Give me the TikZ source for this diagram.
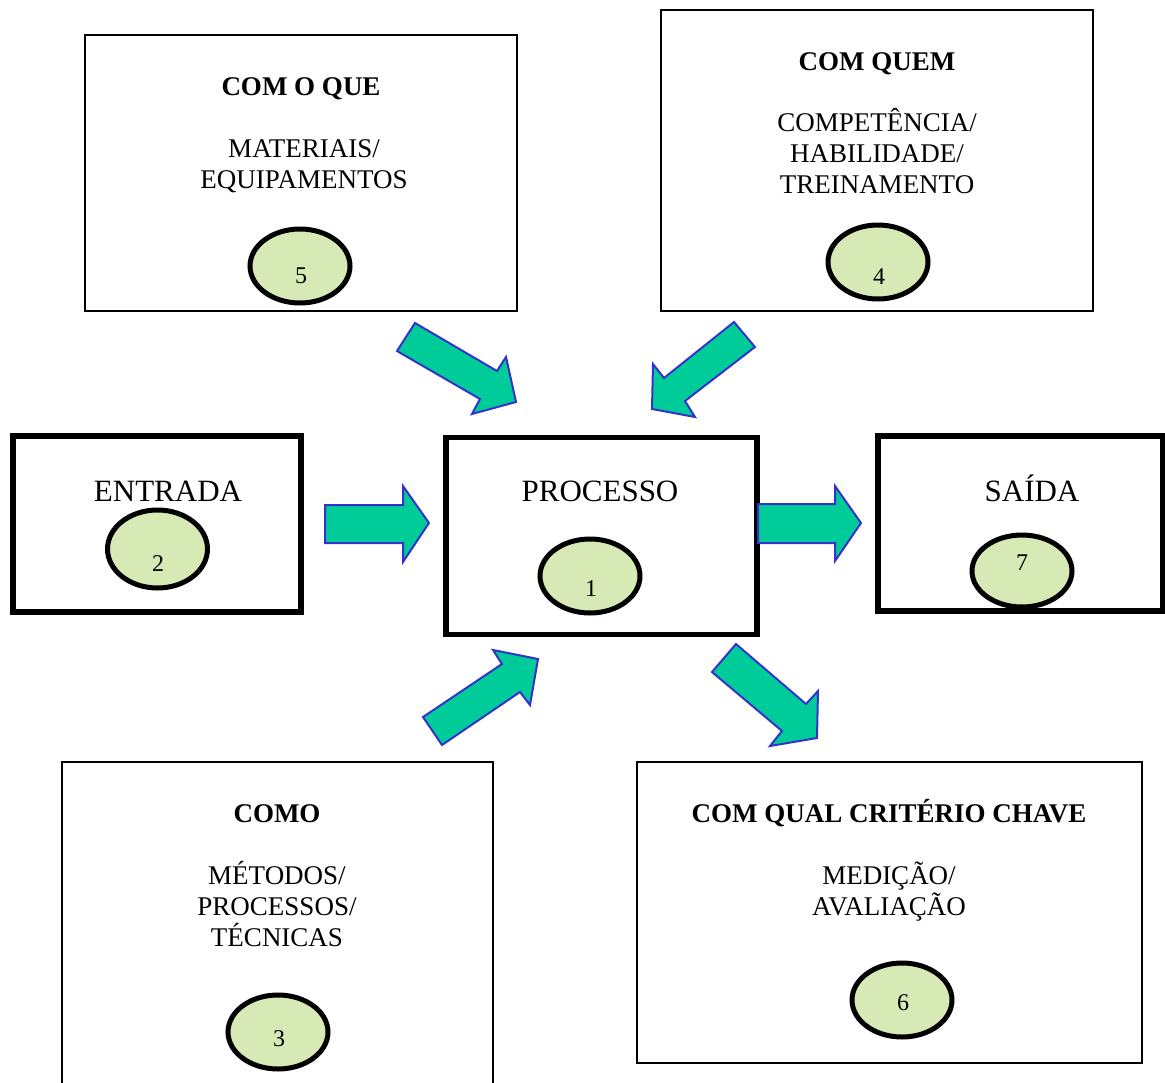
\documentclass[tikz,border=0pt]{standalone}
\usepackage{fontspec}
\setmainfont{Liberation Serif}
\usetikzlibrary{shapes.geometric}
\definecolor{ovalfill}{HTML}{D7E9B5}
\definecolor{arrowfill}{HTML}{00CC99}
\definecolor{arrowline}{HTML}{3333CC}
\begin{document}
\begin{tikzpicture}[x=1pt,y=-1pt,
  thinbox/.style={draw=black,line width=2.4pt,rectangle,inner sep=0pt,fill=white},
  thickbox/.style={draw=black,line width=5.5pt,rectangle,inner sep=0pt,fill=white},
  oval/.style={ellipse,draw=black,line width=5pt,fill=ovalfill,inner sep=0pt},
  num/.style={font=\fontsize{24}{28}\selectfont,inner sep=0pt,anchor=base},
  txt/.style={font=\fontsize{27}{31}\selectfont,align=center,inner sep=0pt,anchor=base},
  ttl/.style={txt,font=\fontsize{27}{31}\selectfont\bfseries},
  big/.style={font=\fontsize{31}{36}\selectfont,inner sep=0pt,anchor=base},
  blockarrow/.style={fill=arrowfill,draw=arrowline,line width=2pt,line join=miter}]
\useasboundingbox (0,0) rectangle (1165,1082);
\fill[white] (0,0) rectangle (1165,1082);

% outer boxes
\node[thinbox,minimum width=432pt,minimum height=276pt] (boxwhat) at (301,173) {};
\node[thinbox,minimum width=432pt,minimum height=301pt] (boxwho) at (877,160.5) {};
\node[thinbox,minimum width=431pt,minimum height=340pt] (boxhow) at (277.5,932) {};
\node[thinbox,minimum width=505pt,minimum height=301pt] (boxcrit) at (889.5,912.5) {};
\node[thickbox,minimum width=288pt,minimum height=176pt] (boxin) at (157,524) {};
\node[thickbox,minimum width=311pt,minimum height=197pt] (boxproc) at (601.5,536) {};
\node[thickbox,minimum width=285pt,minimum height=175pt] (boxout) at (1020.5,523.5) {};

% texts (multi-line nodes are placed at the baseline of their last line)
\node[ttl] (twhat) at (301,95) {COM O QUE};
\node[txt] (dwhat) at (304,188) {MATERIAIS/\\EQUIPAMENTOS};
\node[ttl] (twho) at (877,70) {COM QUEM};
\node[txt] (dwho) at (877,193) {COMPETÊNCIA/\\HABILIDADE/\\TREINAMENTO};
\node[ttl] (thow) at (277,822) {COMO};
\node[txt] (dhow) at (277,946) {MÉTODOS/\\PROCESSOS/\\TÉCNICAS};
\node[ttl] (tcrit) at (889,822) {COM QUAL CRITÉRIO CHAVE};
\node[txt] (dcrit) at (889,915) {MEDIÇÃO/\\AVALIAÇÃO};
\node[big] (tin) at (168,501) {ENTRADA};
\node[big] (tproc) at (600,501) {PROCESSO};
\node[big] (tout) at (1032,501) {SAÍDA};

% numbered ovals
\node[oval,minimum width=100pt,minimum height=74pt] (o5) at (300,266) {};
\node[num] (n5) at (301,283) {5};
\node[oval,minimum width=100pt,minimum height=74pt] (o4) at (878,262) {};
\node[num] (n4) at (879,284) {4};
\node[oval,minimum width=100pt,minimum height=78pt] (o2) at (157.5,549) {};
\node[num] (n2) at (158,571) {2};
\node[oval,minimum width=100pt,minimum height=74pt] (o1) at (590,576) {};
\node[num] (n1) at (591,596) {1};
\node[oval,minimum width=100pt,minimum height=72pt] (o7) at (1022,571) {};
\node[num] (n7) at (1022,570) {7};
\node[oval,minimum width=100pt,minimum height=74pt] (o3) at (278,1032) {};
\node[num] (n3) at (279,1046) {3};
\node[oval,minimum width=100pt,minimum height=74pt] (o6) at (902,1000) {};
\node[num] (n6) at (903,1010) {6};

% block arrows
\draw[blockarrow] (325,505) -- (403,505) -- (403,486) -- (429,523) -- (403,562) -- (403,543) -- (325,543) -- cycle;
\draw[blockarrow] (758,504) -- (835,504) -- (835,486) -- (861,523) -- (835,561) -- (835,543) -- (758,543) -- cycle;
\draw[blockarrow] (415,323) -- (497,371) -- (506,357) -- (516,402) -- (472,414) -- (480,399) -- (397,351) -- cycle;
\draw[blockarrow] (734,322) -- (755,347) -- (685,401) -- (695,417) -- (652,409) -- (653,364) -- (664,378) -- cycle;
\draw[blockarrow] (736,644) -- (806,704) -- (818,691) -- (817,738) -- (770,746) -- (782,731) -- (712,672) -- cycle;
\draw[blockarrow] (423,717) -- (442,745) -- (520,692) -- (530,705) -- (538,659) -- (493,650) -- (502,664) -- cycle;
\end{tikzpicture}
\end{document}
